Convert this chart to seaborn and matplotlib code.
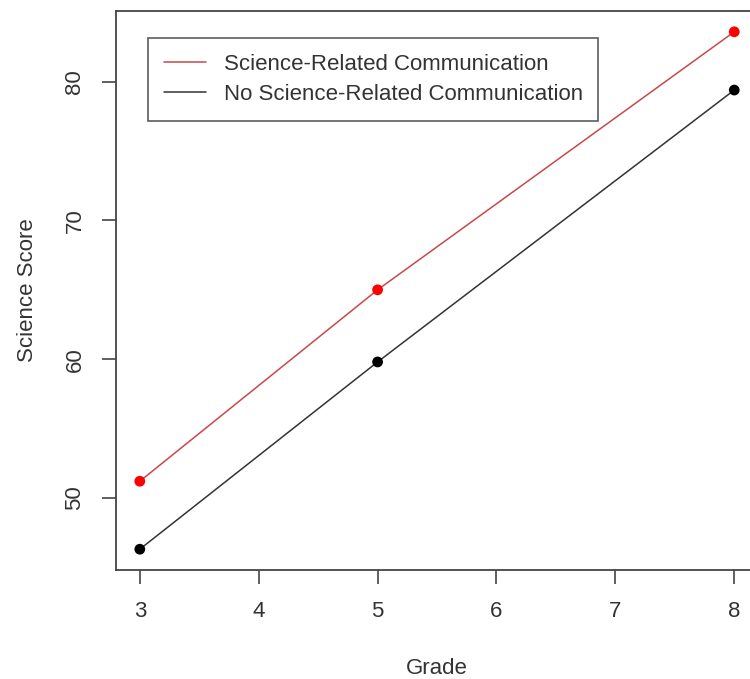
import seaborn as sns
import matplotlib.pyplot as plt
import pandas as pd
from matplotlib.lines import Line2D

grades = [3, 5, 8]
sci_comm = [51.2, 65.0, 83.6]
no_sci_comm = [46.3, 59.8, 79.4]
groups = ["Science-Related Communication", "No Science-Related Communication"]

df = pd.DataFrame({
    "Grade": grades * 2,
    "Score": sci_comm + no_sci_comm,
    "Group": [groups[0]] * 3 + [groups[1]] * 3,
})

sns.set_style("ticks")
plt.rcParams['font.family'] = ['Liberation Sans', 'DejaVu Sans']

fig = plt.figure(figsize=(7.5, 6.79), dpi=100)
ax = fig.add_axes([0.1547, 0.1605, 0.856, 0.8233])

line_cols = {groups[0]: "#c8484a", groups[1]: "#333333"}
pt_cols = {groups[0]: "#ff0000", groups[1]: "#000000"}

sns.lineplot(data=df, x="Grade", y="Score", hue="Group", palette=line_cols,
             linewidth=1.1, legend=False, ax=ax)
sns.scatterplot(data=df, x="Grade", y="Score", hue="Group", palette=pt_cols,
                s=60, edgecolor="none", legend=False, ax=ax, zorder=3)

ax.set_xlim(2.8, 8.2)
ax.set_ylim(44.8, 85.1)
ax.set_xticks([3, 4, 5, 6, 7, 8])
ax.set_yticks([50, 60, 70, 80])
for lab in ax.get_yticklabels():
    lab.set_rotation(90)
    lab.set_va("center")
ax.tick_params(labelsize=16, length=10, width=1.2, color="#444444",
               labelcolor="#333333")
ax.tick_params(axis="x", pad=12)
ax.tick_params(axis="y", pad=12)
for s in ax.spines.values():
    s.set_color("#444444")
    s.set_linewidth(1.3)

ax.set_xlabel("Grade", fontsize=16, labelpad=26, color="#333333")
ax.set_ylabel("Science Score", fontsize=16, labelpad=19, color="#333333")

handles = [Line2D([0], [0], color=line_cols[g], lw=1.1) for g in groups]
leg = ax.legend(handles, groups, loc="upper left", bbox_to_anchor=(0.0498, 0.9517),
                borderaxespad=0, fontsize=16, frameon=True, fancybox=False,
                handlelength=1.9, handletextpad=0.8, borderpad=0.7,
                labelspacing=0.43)
leg.get_frame().set_edgecolor("#333333")
leg.get_frame().set_linewidth(1.2)
for t in leg.get_texts():
    t.set_color("#333333")

fig.savefig("out.png", dpi=100)
